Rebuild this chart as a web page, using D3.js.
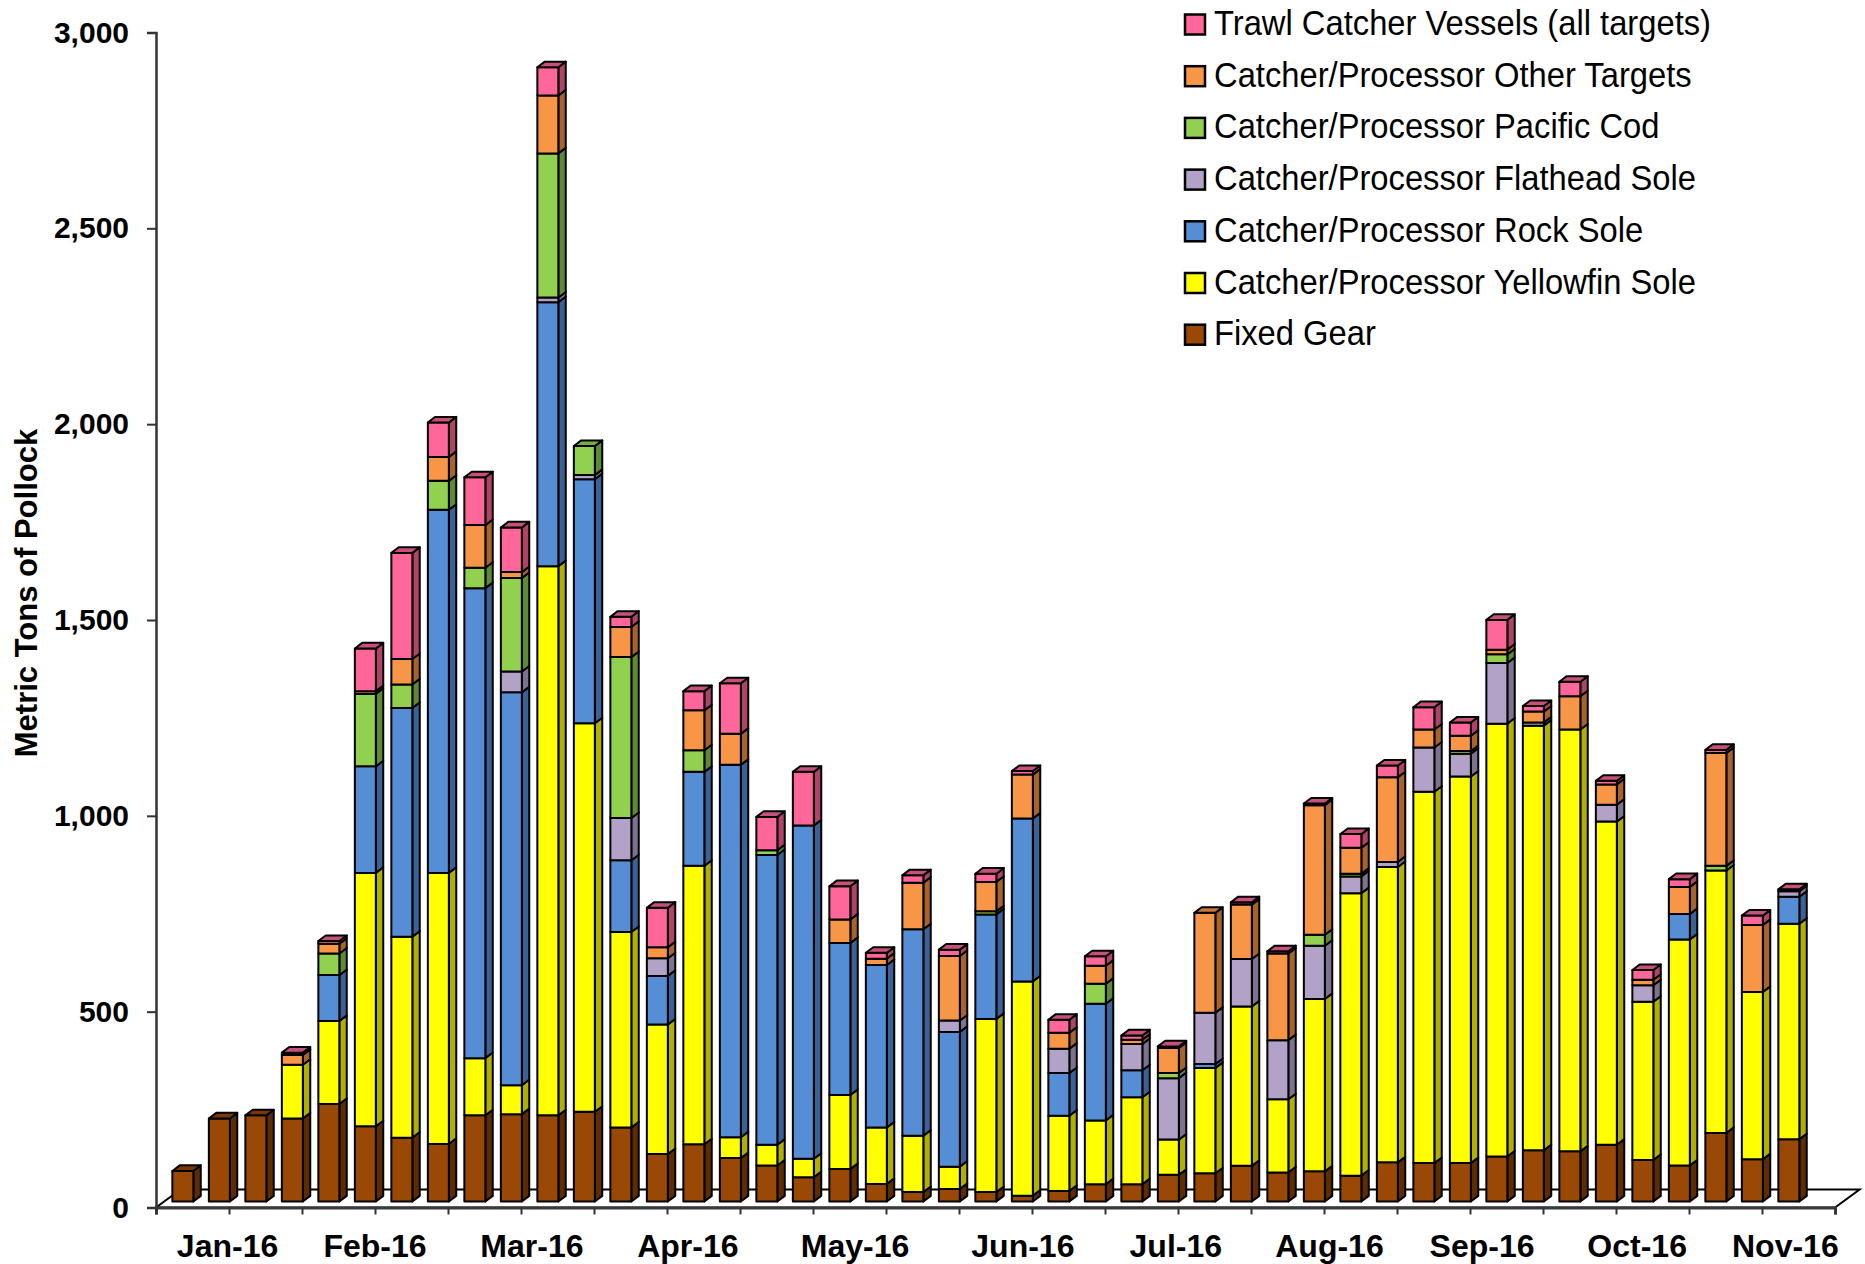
<!DOCTYPE html>
<html><head><meta charset="utf-8">
<script src="https://cdn.jsdelivr.net/npm/d3@7/dist/d3.min.js"></script>
<style>body{margin:0;background:#fff} svg{display:block}</style>
</head><body>
<script>
// ---- data ----
const weeks = ["W01","W02","W03","W04","W05","W06","W07","W08","W09","W10","W11","W12","W13","W14","W15","W16","W17","W18","W19","W20","W21","W22","W23","W24","W25","W26","W27","W28","W29","W30","W31","W32","W33","W34","W35","W36","W37","W38","W39","W40","W41","W42","W43","W44","W45","W46"];
const fixedGear  = [78,212,220,212,249,192,163,147,220,223,220,229,189,121,146,111,92,62,83,45,24,32,24,15,27,44,44,68,72,91,74,77,66,100,98,98,115,131,128,145,106,92,175,108,159,0];
const yellowfin  = [0,0,0,137,212,647,513,692,146,74,1402,992,499,331,711,53,53,47,189,144,144,57,442,547,192,163,222,90,269,407,187,440,721,754,948,987,1105,1084,1077,825,404,577,670,427,550,0];
const rockSole   = [0,0,0,0,117,272,584,927,1200,1003,674,623,183,124,240,951,740,851,388,415,527,344,267,416,109,298,69,0,10,0,0,0,0,0,0,0,0,0,0,0,0,65,0,0,69,0];
const flathead   = [0,0,0,0,0,0,0,0,0,53,12,11,108,45,0,0,0,0,0,0,0,29,0,0,62,0,67,157,131,121,151,136,43,13,113,58,155,8,0,43,42,0,0,0,14,0];
const pacificCod = [0,0,0,0,55,185,60,74,52,239,368,74,411,0,55,0,12,0,0,0,0,0,8,0,0,51,0,13,0,0,0,28,7,0,0,7,22,0,0,0,0,0,12,0,0,0];
const otherTgt   = [0,0,0,25,25,7,65,61,109,15,148,0,77,28,102,79,0,0,60,16,119,165,75,112,41,46,11,64,255,139,221,331,66,216,46,39,12,28,85,52,14,69,288,171,0,0];
const trawlCV    = [0,0,0,6,7,109,271,88,122,114,72,0,26,101,49,129,85,137,85,15,19,16,21,9,33,24,11,4,0,6,6,4,35,30,57,34,76,14,37,9,25,20,8,24,5,0];

const seriesKeys  = ["fixed","yellow","rock","flat","cod","other","trawl"];
const seriesNames = ["Fixed Gear","Catcher/Processor Yellowfin Sole","Catcher/Processor Rock Sole","Catcher/Processor Flathead Sole","Catcher/Processor Pacific Cod","Catcher/Processor Other Targets","Trawl Catcher Vessels (all targets)"];
const monthLabels = ["Jan-16","Feb-16","Mar-16","Apr-16","May-16","Jun-16","Jul-16","Aug-16","Sep-16","Oct-16","Nov-16"];
const monthLabelPos = [1.96,6.0,10.3,14.57,19.15,23.75,27.94,32.15,36.33,40.58,44.64];
const yTicks = [0,500,1000,1500,2000,2500,3000];

// ---- styles ----
const colors = {
  fixed: {front:"#9A4805", side:"#5E2C03", top:"#7A3904"},
  yellow:{front:"#FFFF00", side:"#B0B000", top:"#CCCC00"},
  rock:  {front:"#568ED6", side:"#3A6296", top:"#4571AD"},
  flat:  {front:"#B3A2C7", side:"#7E7290", top:"#9A8AAD"},
  cod:   {front:"#92D050", side:"#5F8A35", top:"#78AE41"},
  other: {front:"#F79646", side:"#A8632C", top:"#C97A38"},
  trawl: {front:"#FF6699", side:"#B04468", top:"#C9507C"}
};

const rows = weeks.map((w,i)=>({week:w, fixed:fixedGear[i], yellow:yellowfin[i], rock:rockSole[i],
  flat:flathead[i], cod:pacificCod[i], other:otherTgt[i], trawl:trawlCV[i]}));
const stacked = d3.stack().keys(seriesKeys)(rows);

const W=1865, H=1264;
const xL=156, xR=1835, yBase=1207.5, yTopPx=32.5;
const x = d3.scaleLinear().domain([0, weeks.length]).range([xL, xR]);
const y = d3.scaleLinear().domain([0, 3000]).range([yBase, yTopPx]);
const slot = x(1)-x(0);
const bw = 21;                 // front face width
const ox = 8.6, oy = -6;       // bar plane offset from front edge
const bdx = 7.4, bdy = -5.6;   // bar depth
const fdx = 24.6, fdy = -18;   // floor depth

const svg = d3.select("body").append("svg").attr("width",W).attr("height",H)
  .style("font-family","'Liberation Sans', Arial, sans-serif");

// floor
svg.append("path")
  .attr("d", `M${xL},${yBase}L${xR},${yBase}L${xR+fdx},${yBase+fdy}L${xL+fdx},${yBase+fdy}Z`)
  .attr("fill","#fff").attr("stroke","#000").attr("stroke-width",2);

// bars
const gBars = svg.append("g").attr("stroke","#000").attr("stroke-width",2).attr("stroke-linejoin","round");
weeks.forEach((w,i)=>{
  const left = x(i) + ox + (slot-bw)/2, right = left + bw;
  let topKey = null, topVal = 0;
  stacked.forEach(s=>{
    const d = s[i];
    if (d[1]-d[0] <= 0) return;
    const yb = y(d[0]) + oy, yt = y(d[1]) + oy;
    const c = colors[s.key];
    gBars.append("path")
      .attr("d",`M${right},${yt}L${right+bdx},${yt+bdy}L${right+bdx},${yb+bdy}L${right},${yb}Z`)
      .attr("fill",c.side);
    gBars.append("rect").attr("x",left).attr("y",yt).attr("width",bw).attr("height",yb-yt)
      .attr("fill",c.front);
    topKey = s.key; topVal = d[1];
  });
  if (topKey){
    const yt = y(topVal) + oy;
    gBars.append("path")
      .attr("d",`M${left},${yt}L${left+bdx},${yt+bdy}L${right+bdx},${yt+bdy}L${right},${yt}Z`)
      .attr("fill",colors[topKey].top);
  }
});

// x axis (front edge)
const xAxis = d3.axisBottom(x).tickValues(d3.range(0, weeks.length+1, 2)).tickSize(7).tickFormat("");
const gx = svg.append("g").attr("transform",`translate(0,${yBase})`).call(xAxis);
gx.select(".domain").attr("stroke","#3a3a3a").attr("stroke-width",3);
gx.selectAll(".tick line").attr("stroke","#333").attr("stroke-width",2);
svg.append("g").selectAll("text").data(monthLabels).join("text")
  .attr("x",(d,i)=>x(monthLabelPos[i])).attr("y",1256.5)
  .attr("text-anchor","middle").attr("font-size",32).attr("font-weight","bold").attr("fill","#000")
  .text(d=>d);

// y axis
const yAxis = d3.axisLeft(y).tickValues(yTicks).tickFormat(d3.format(",")).tickSize(9).tickPadding(18);
const gy = svg.append("g").attr("transform",`translate(${xL},0)`).call(yAxis);
gy.select(".domain").attr("stroke","#333").attr("stroke-width",2.5);
gy.selectAll(".tick line").attr("stroke","#333").attr("stroke-width",2);
gy.selectAll(".tick text").attr("font-size",30).attr("font-weight","bold").attr("fill","#000")
  .attr("font-family","'Liberation Sans', Arial, sans-serif");

// y title
svg.append("text").attr("transform","translate(37,593) rotate(-90)")
  .attr("text-anchor","middle").attr("font-size",31).attr("font-weight","bold").attr("fill","#000")
  .text("Metric Tons of Pollock");

// legend (top series first)
const legendOrder = seriesKeys.map((k,i)=>({key:k,name:seriesNames[i]})).reverse();
const lg = svg.append("g");
legendOrder.forEach((d,i)=>{
  const yy = 14.5 + i*51.7;
  lg.append("rect").attr("x",1185).attr("y",yy).attr("width",20).attr("height",20)
    .attr("fill",colors[d.key].front).attr("stroke","#000").attr("stroke-width",2.5);
  lg.append("text").attr("transform",`translate(1214,${yy+20.5}) scale(0.935,1)`)
    .attr("font-size",35).attr("fill","#000").text(d.name);
});
</script>
</body></html>
